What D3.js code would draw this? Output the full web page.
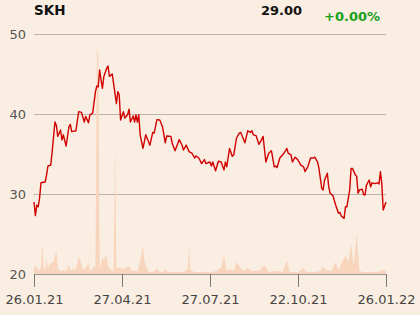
<!DOCTYPE html>
<html>
<head>
<meta charset="utf-8">
<script src="https://cdn.jsdelivr.net/npm/d3@7/dist/d3.min.js"></script>
<style>
  html, body { margin: 0; padding: 0; background: #FAEDE1; }
  svg { display: block; }
  text { font-family: "DejaVu Sans", sans-serif; }
</style>
</head>
<body>
<svg id="chart" width="420" height="315"></svg>
<script>
// ---- data ----
const ticker = "SKH";
const lastPrice = "29.00";
const changeText = "+0.00%";

// trading-day index (0 = 26.01.21, 252 = 26.01.22)
const priceIdx = [
  0,1,2,3,4,5,8,9,10,12,13,15,16,17,19,20,21,23,25,26,27,30,32,34,36,37,39,40,42,44,
  45,46,47,48,49,50,52,53,54,56,57,59,60,61,62,64,65,67,68,69,71,72,73,74,75,76,78,80,83,85,
  86,88,90,92,94,95,98,99,101,104,106,107,109,111,113,115,116,118,120,122,123,126,127,128,130,132,134,136,137,138,
  140,142,143,145,147,148,151,153,155,156,157,159,161,163,164,166,168,170,172,173,174,176,178,180,181,182,184,185,187,189,
  191,193,194,196,198,200,201,203,204,206,207,208,210,211,212,214,216,218,219,220,222,223,224,226,227,228,230,231,232,233,
  235,236,237,238,240,241,242,244,246,247,248,249,250,251,252
];
const priceVal = [
  29.0,27.3,28.6,28.4,29.5,31.4,31.5,32.4,33.5,33.6,35.3,39.0,38.6,37.2,38.0,36.75,37.4,36.0,38.4,38.7,37.8,37.9,40.3,40.2,39.0,39.7,38.9,39.9,40.1,42.8,
  43.5,43.4,45.5,44.25,43.2,44.7,45.7,46.0,44.7,45.0,43.8,41.3,42.8,42.4,39.25,40.3,39.5,39.9,40.6,39.0,39.75,39.0,39.9,39.0,39.9,37.4,35.7,37.4,36.1,37.7,
  37.6,39.3,39.25,38.4,36.4,37.25,37.2,36.3,35.4,36.8,36.1,35.5,36.1,35.3,35.1,34.5,34.75,34.5,33.8,34.3,33.8,34.0,33.5,34.0,32.9,34.1,34.0,33.0,34.0,33.4,
  35.7,34.7,34.9,37.0,37.6,37.7,36.4,37.9,37.7,37.9,37.4,37.3,36.2,36.8,37.2,34.0,35.1,35.4,33.4,33.5,33.3,34.5,34.9,35.4,35.7,35.1,34.9,34.0,34.6,34.25,
  33.6,33.4,32.8,33.4,34.5,34.5,34.6,34.0,33.2,30.7,30.5,31.75,32.6,30.9,30.1,29.8,28.6,27.6,27.7,27.25,26.95,28.4,28.4,30.5,33.2,33.2,32.4,32.2,30.1,30.5,
  30.6,29.9,29.9,31.1,31.75,30.9,31.4,31.3,31.4,31.25,32.8,31.3,28.0,28.5,29.0
];

// volume (thousand shares)
const volIdx = [
  0,2,3,5,6,7,8,9,10,12,14,16,17,19,21,23,25,26,28,30,32,34,35,37,39,40,42,43,44,45,
  46,47,48,49,50,52,53,55,57,58,59,62,63,65,68,70,72,74,76,78,79,82,84,86,88,90,92,94,96,101,
  106,110,111,112,115,122,127,131,132,134,136,138,140,143,145,147,150,153,156,161,165,168,173,178,181,183,189,193,195,201,
  205,206,210,213,216,218,221,223,225,227,229,231,233,236,241,246,250,252
];
const volVal = [
  36,31,13,27,143,27,18,71,27,49,54,107,27,13,18,13,40,18,22,18,80,45,18,27,49,13,22,36,27,1000,
  980,27,36,76,63,85,36,18,13,571,27,27,22,27,36,13,13,13,58,130,58,9,9,13,27,9,9,22,9,9,
  9,18,116,18,9,9,9,13,22,27,80,13,22,13,54,36,13,27,13,13,40,9,13,9,63,9,9,27,9,9,
  13,31,18,13,54,18,58,80,54,134,40,183,13,9,9,9,18,13
];

const yTicks = [20, 30, 40, 50];
const xTickIdx = [0, 63, 126, 189, 252];
const xTickLabels = ["26.01.21", "27.04.21", "27.07.21", "22.10.21", "26.01.22"];

// ---- drawing ----
const svg = d3.select("#chart");
const x = d3.scaleLinear().domain([0, 252]).range([34, 386]);
const y = d3.scaleLinear().domain([20, 50]).range([274, 34]);
const vh = d3.scaleLinear().domain([0, 1000]).range([0, 224]);

// gridlines
svg.append("g").selectAll("line")
  .data(yTicks.filter(d => d !== 20))
  .join("line")
  .attr("x1", x(0)).attr("x2", x(252))
  .attr("y1", d => y(d)).attr("y2", d => y(d))
  .attr("stroke", "#bcb4ac").attr("stroke-width", 1)
  .attr("shape-rendering", "crispEdges");

// volume area
const volData = volIdx.map((d, i) => ({ i: d, v: volVal[i] }));
svg.append("path")
  .datum(volData)
  .attr("fill", "#F7D6BD")
  .attr("d", d3.area()
    .x(d => x(d.i))
    .y0(y(20))
    .y1(d => y(20) - vh(d.v)));

// y labels
svg.append("g").selectAll("text")
  .data(yTicks)
  .join("text")
  .attr("x", 26).attr("y", d => y(d)).attr("dy", "0.35em")
  .attr("text-anchor", "end")
  .attr("font-size", 13).attr("fill", "#555")
  .text(d => d);

// x axis
const xAxis = d3.axisBottom(x)
  .tickValues(xTickIdx)
  .tickFormat((d, i) => xTickLabels[i])
  .tickSize(13).tickSizeOuter(0).tickPadding(8);
const gx = svg.append("g").attr("transform", `translate(0,${y(20)})`).call(xAxis);
gx.select(".domain").attr("stroke", "#999").attr("shape-rendering", "crispEdges");
gx.selectAll(".tick line").attr("stroke", "#777").attr("shape-rendering", "crispEdges");
gx.selectAll(".tick text")
  .attr("font-family", "DejaVu Sans, sans-serif")
  .attr("font-size", 13).attr("fill", "#444");

// price line
const priceData = priceIdx.map((d, i) => ({ i: d, v: priceVal[i] }));
svg.append("path")
  .datum(priceData)
  .attr("fill", "none")
  .attr("stroke", "#d10000")
  .attr("stroke-width", 1.4)
  .attr("stroke-linejoin", "round")
  .attr("d", d3.line().x(d => x(d.i)).y(d => y(d.v)));

// header
svg.append("text").attr("x", 34).attr("y", 15)
  .attr("font-size", 13.5).attr("font-weight", "bold").attr("fill", "#111")
  .text(ticker);
svg.append("text").attr("x", 302).attr("y", 15).attr("text-anchor", "end")
  .attr("font-size", 13).attr("font-weight", "bold").attr("fill", "#111")
  .text(lastPrice);
svg.append("text").attr("x", 380).attr("y", 21).attr("text-anchor", "end")
  .attr("font-size", 13).attr("font-weight", "bold").attr("fill", "#17a017")
  .text(changeText);
</script>
</body>
</html>
